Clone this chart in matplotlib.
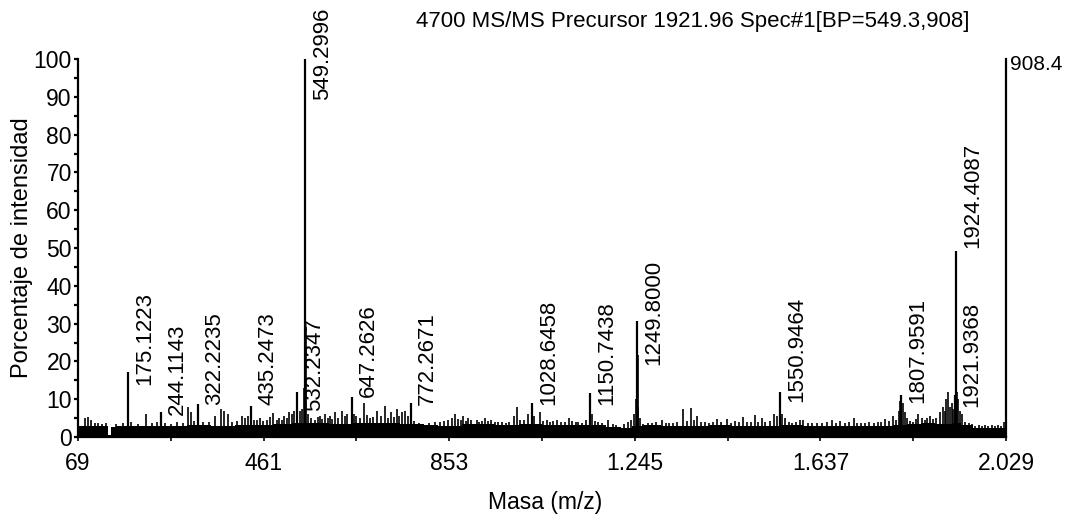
import numpy as np
import matplotlib.pyplot as plt
from matplotlib.ticker import FixedLocator

plt.rcParams['font.family'] = ['Liberation Sans', 'DejaVu Sans']

# labelled fragment peaks (m/z, relative intensity %)
peak_mz = [175.1223, 244.1143, 322.2235, 435.2473, 532.2347, 549.2996, 647.2626,
           772.2671, 1028.6458, 1150.7438, 1249.8000, 1550.9464, 1807.9591,
           1921.9368, 1924.4087]
peak_int = [17.3, 6.7, 8.7, 8.2, 12.0, 100.0, 10.7, 9.0, 9.0, 11.7, 30.7, 11.8,
            11.1, 11.0, 49.3]
# height at which each peak label starts
label_base = [13.8, 5.8, 8.5, 8.5, 7.0, 89.2, 10.6, 8.5, 8.5, 8.5, 19.0, 9.3,
              9.0, 7.9, 50.0]

# unlabelled minor peaks and noise
noise_mz = [84, 90, 96, 104, 111, 120, 128, 150, 163, 181, 195, 212, 225, 236, 252,
            265, 278, 290, 301, 308, 315, 334, 345, 358, 372, 377, 385, 395, 405,
            415, 422, 428, 440, 447, 453, 460, 468, 474, 481, 489, 494, 499, 505,
            510, 515, 520, 526, 538, 542, 546, 550.3, 555, 562, 570, 575, 580, 585,
            591, 596, 601, 606, 612, 618, 626, 632, 638, 652, 657, 664, 673, 680,
            686, 693, 700, 708, 717, 724, 731, 737, 743, 748, 753, 760, 765, 779,
            790, 798, 810, 822, 834, 843, 851, 858, 865, 872, 878, 883, 888, 893,
            900, 911, 916, 922, 929, 935, 942, 950, 957, 964, 972, 980, 989, 996,
            1003, 1010, 1020, 1027, 1033, 1045, 1052, 1059, 1066, 1073, 1080, 1090,
            1098, 1105, 1112, 1120, 1126, 1134, 1142, 1154, 1160, 1168, 1176, 1189,
            1198, 1206, 1222, 1230, 1238, 1244, 1247.8, 1250.8, 1251.8, 1256, 1263,
            1272, 1281, 1290, 1302, 1311, 1318, 1326, 1335, 1347, 1355, 1364, 1370,
            1376, 1385, 1393, 1402, 1410, 1419, 1428, 1439, 1448, 1457, 1466, 1474,
            1482, 1490, 1499, 1506, 1513, 1520, 1530, 1539, 1546, 1555, 1562, 1570,
            1578, 1586, 1594, 1601, 1610, 1620, 1630, 1640, 1650, 1661, 1670, 1679,
            1688, 1697, 1707, 1715, 1723, 1731, 1740, 1750, 1758, 1765, 1773, 1782,
            1791, 1797, 1803, 1805, 1812, 1815, 1819, 1826, 1833, 1838, 1844, 1851,
            1857, 1862, 1868, 1875, 1882, 1889, 1896, 1900, 1903, 1907, 1911, 1914,
            1918, 1925.4, 1928, 1932, 1936, 1943, 1950, 1957, 1964, 1971, 1978,
            1985, 1992, 1999, 2006, 2013, 2019, 2024]
noise_int = [5.0, 5.2, 4.5, 3.8, 3.6, 3.4, 3.7, 3.5, 3.6, 3.9, 3.4, 6.0, 3.8, 4.0, 3.6,
             3.5, 4.0, 3.8, 8.0, 6.5, 4.2, 3.9, 4.1, 5.5, 7.3, 7.0, 6.0, 4.0, 4.2,
             5.5, 5.0, 5.5, 4.6, 4.5, 5.0, 4.2, 4.4, 5.2, 6.3, 4.5, 5.0, 4.5, 5.6,
             5.0, 6.5, 6.0, 6.8, 7.0, 7.5, 13.0, 29.0, 6.0, 5.0, 4.5, 5.2, 5.5, 4.8,
             6.0, 5.0, 5.5, 4.7, 6.5, 5.0, 7.0, 5.5, 6.0, 6.0, 5.5, 5.0, 9.1, 5.8,
             5.0, 5.2, 7.0, 5.5, 8.3, 5.0, 6.5, 5.2, 7.3, 5.6, 6.5, 7.0, 5.5, 4.2,
             3.8, 3.5, 3.8, 4.0, 4.0, 4.3, 4.5, 5.0, 6.0, 4.8, 4.5, 5.5, 4.3, 5.0,
             4.5, 4.5, 4.0, 4.3, 5.0, 4.2, 4.4, 4.0, 3.9, 4.0, 3.8, 4.0, 5.5, 8.0,
             4.6, 4.5, 6.0, 5.0, 5.5, 6.5, 4.3, 4.5, 4.0, 4.2, 4.5, 3.9,
             4.1, 5.0, 4.2, 4.0, 4.0, 3.8, 4.5, 6.0, 4.3, 3.9, 3.6, 4.5,
             3.4, 3.2, 3.4, 4.0, 4.5, 6.0, 10.0, 21.7, 8.0, 5.0, 3.5,
             3.8, 3.6, 3.9, 4.5, 3.7, 3.8, 3.8, 4.0, 7.3, 4.2, 7.8, 4.5,
             5.5, 4.0, 4.0, 3.8, 3.9, 4.8, 4.0, 4.8, 3.8, 4.2, 4.0, 5.2,
             3.9, 4.1, 5.7, 4.0, 5.0, 3.9, 4.3, 6.0, 5.5, 6.0, 5.0, 4.0,
             3.8, 3.9, 4.5, 4.5, 3.7, 3.8, 3.6, 3.8, 3.9, 4.5, 3.8, 4.2,
             3.8, 3.9, 5.0, 3.8, 3.7, 3.8, 3.9, 3.7, 4.0, 3.9, 4.8, 4.2,
             5.5, 4.5, 7.0, 9.5, 9.0, 6.5, 5.0, 4.2, 4.0, 4.8, 6.0, 5.0,
             4.6, 5.0, 5.5, 4.8, 5.0, 6.5, 8.0, 7.0, 10.0, 12.0, 8.0, 9.0,
             7.5, 12.0, 10.0, 7.0, 6.0, 4.0, 3.6, 3.5, 3.0, 3.2, 3.0,
             3.1, 2.9, 3.2, 3.0, 3.3, 3.0, 4.0]

# baseline level of the dense chemical noise
base_mz = [69, 90, 115, 132, 138, 150, 200, 260, 300, 350,
           400, 450, 480, 520, 560, 600, 650, 700, 750, 800,
           830, 880, 950, 1000, 1050, 1100, 1150, 1185, 1215, 1240,
           1260, 1300, 1350, 1400, 1450, 1500, 1550, 1600, 1650, 1700,
           1750, 1790, 1820, 1850, 1880, 1915, 1935, 1960, 2000, 2029]
base_lvl = [2.8, 3.0, 2.9, 0.6, 2.7, 2.9, 2.8, 3.0, 3.1, 3.0,
            3.1, 3.2, 3.5, 3.6, 3.6, 3.5, 3.7, 3.6, 3.5, 3.2,
            3.0, 3.4, 3.3, 3.4, 3.3, 3.1, 3.2, 2.7, 2.5, 2.9,
            3.2, 3.0, 3.0, 3.1, 3.0, 3.0, 3.2, 3.0, 2.9, 3.0,
            3.0, 3.2, 3.5, 3.6, 3.5, 3.8, 3.2, 2.4, 2.3, 2.4]

xticks = [69, 461, 853, 1245, 1637, 2029]
xtick_labels = ['69', '461', '853', '1.245', '1.637', '2.029']
xminor = [265, 657, 1049, 1441, 1833]
base_peak_abs = '908.4'
title = '4700 MS/MS Precursor 1921.96 Spec#1[BP=549.3,908]'

fig = plt.figure(figsize=(10.69, 5.19), dpi=100)
ax = fig.add_axes([78 / 1069, 1 - 437 / 519, 928 / 1069, 378 / 519])

# baseline band, noise hairs and the labelled peaks
ax.fill_between(base_mz, 0, base_lvl, step='post', color='black', lw=0)
ax.vlines(noise_mz, 0, noise_int, color='black', lw=1.2)
ax.vlines(peak_mz, 0, peak_int, color='black', lw=1.6)

for mz, lb in zip(peak_mz, label_base):
    ax.annotate(f'{mz:.4f}', xy=(mz, lb), xytext=(4.5, 0), textcoords='offset points',
                rotation=90, ha='left', va='bottom', fontsize=16, annotation_clip=False)

ax.set_xlim(69, 2029)
ax.set_ylim(0, 100)

ax.spines['top'].set_visible(False)
for s in ['left', 'bottom', 'right']:
    ax.spines[s].set_linewidth(1.6)

ax.set_xticks(xticks)
ax.set_xticklabels(xtick_labels)
ax.xaxis.set_minor_locator(FixedLocator(xminor))
ax.set_yticks(range(0, 101, 10))
ax.yaxis.set_minor_locator(FixedLocator(range(5, 100, 10)))
ax.tick_params(axis='x', which='both', direction='out', length=3, width=1.2, pad=8, labelsize=16.5)
ax.tick_params(axis='y', which='both', direction='out', length=3, width=1.6, pad=1.5, labelsize=16.5)

# absolute intensity of the base peak, at the top of the right edge
ax.annotate(base_peak_abs, xy=(2029, 100), xytext=(3, 3), textcoords='offset points',
            fontsize=15, ha='left', va='top', annotation_clip=False)

fig.text(693 / 1069, 1 - 22 / 519, title, fontsize=16, ha='center', va='center')
fig.text(22 / 1069, 1 - 248 / 519, 'Porcentaje de intensidad', rotation=90,
         fontsize=17, ha='center', va='center')
fig.text(545 / 1069, 1 - 502 / 519, 'Masa (m/z)', fontsize=16.5, ha='center', va='center')

fig.savefig('out.png', dpi=100)
